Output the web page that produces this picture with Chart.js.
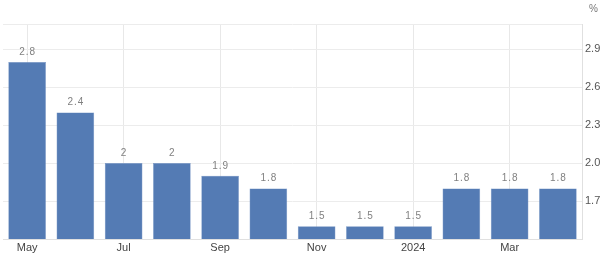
<!DOCTYPE html>
<html>
<head>
<meta charset="utf-8">
<script src="https://cdn.jsdelivr.net/npm/chart.js@4"></script>
<style>
  html, body { margin: 0; padding: 0; background: #fff; }
  #wrap { width: 605px; height: 261px; position: relative; }
</style>
</head>
<body>
<div id="wrap"><canvas id="rateChart"></canvas></div>
<script>
const months = ['May', 'Jun', 'Jul', 'Aug', 'Sep', 'Oct', 'Nov', 'Dec', '2024', 'Feb', 'Mar', 'Apr'];
const rates = [2.8, 2.4, 2.0, 2.0, 1.9, 1.8, 1.5, 1.5, 1.5, 1.8, 1.8, 1.8];
const yTicks = [1.7, 2.0, 2.3, 2.6, 2.9];

const FONT = '"Liberation Sans", Arial, sans-serif';
const fmt = v => String(Math.round(v * 10) / 10);

const barLabels = {
    id: 'barLabels',
    beforeDatasetsDraw(chart) {
        // thin line closing the top of the plot area
        const a = chart.chartArea;
        const ctx = chart.ctx;
        ctx.save();
        ctx.strokeStyle = '#ececec';
        ctx.lineWidth = 1;
        ctx.beginPath();
        ctx.moveTo(a.left, Math.round(a.top) + 0.5);
        ctx.lineTo(a.right, Math.round(a.top) + 0.5);
        ctx.stroke();
        ctx.restore();
    },
    afterDatasetsDraw(chart) {
        const ctx = chart.ctx;
        const meta = chart.getDatasetMeta(0);
        ctx.save();
        ctx.font = '10px ' + FONT;
        ctx.letterSpacing = '1px';
        ctx.fillStyle = '#808080';
        ctx.textAlign = 'center';
        ctx.textBaseline = 'bottom';
        meta.data.forEach((bar, i) => {
            ctx.fillText(fmt(rates[i]), bar.x + 0.5, bar.y - 5);
        });
        // unit at top right
        ctx.letterSpacing = '0px';
        ctx.fillStyle = '#777';
        ctx.textAlign = 'left';
        ctx.textBaseline = 'middle';
        ctx.fillText('%', 589, 9);
        ctx.restore();
    }
};

new Chart(document.getElementById('rateChart'), {
    type: 'bar',
    data: {
        labels: months,
        datasets: [{
            data: rates,
            backgroundColor: '#547bb4',
            borderColor: '#6a8cc0',
            borderWidth: 0.5,
            categoryPercentage: 0.78,
            barPercentage: 1
        }]
    },
    options: {
        responsive: true,
        maintainAspectRatio: false,
        animation: false,
        layout: { padding: { top: 24, left: 3, right: 0, bottom: 0 } },
        plugins: {
            legend: { display: false },
            tooltip: { enabled: false }
        },
        scales: {
            x: {
                grid: {
                    offset: false,
                    color: c => (c.index % 2 === 0 ? '#e8e8e8' : 'transparent'),
                    drawTicks: false
                },
                border: { color: '#e0e0e0' },
                ticks: {
                    autoSkip: false,
                    maxRotation: 0,
                    padding: 2,
                    color: '#444',
                    font: { size: 11, family: FONT },
                    callback: (v, i) => (i % 2 === 0 ? months[i] : '')
                },
                afterFit: s => { s.height = 22; }
            },
            y: {
                position: 'right',
                min: 1.4,
                max: 3.1,
                afterBuildTicks: s => { s.ticks = yTicks.map(v => ({ value: v })); },
                grid: { color: '#ececec', drawTicks: false },
                border: { color: '#e0e0e0' },
                ticks: {
                    padding: 3,
                    color: '#555',
                    font: { size: 11, family: FONT },
                    callback: v => v.toFixed(1)
                },
                afterFit: s => { s.width = 23; }
            }
        }
    },
    plugins: [barLabels]
});
</script>
</body>
</html>
